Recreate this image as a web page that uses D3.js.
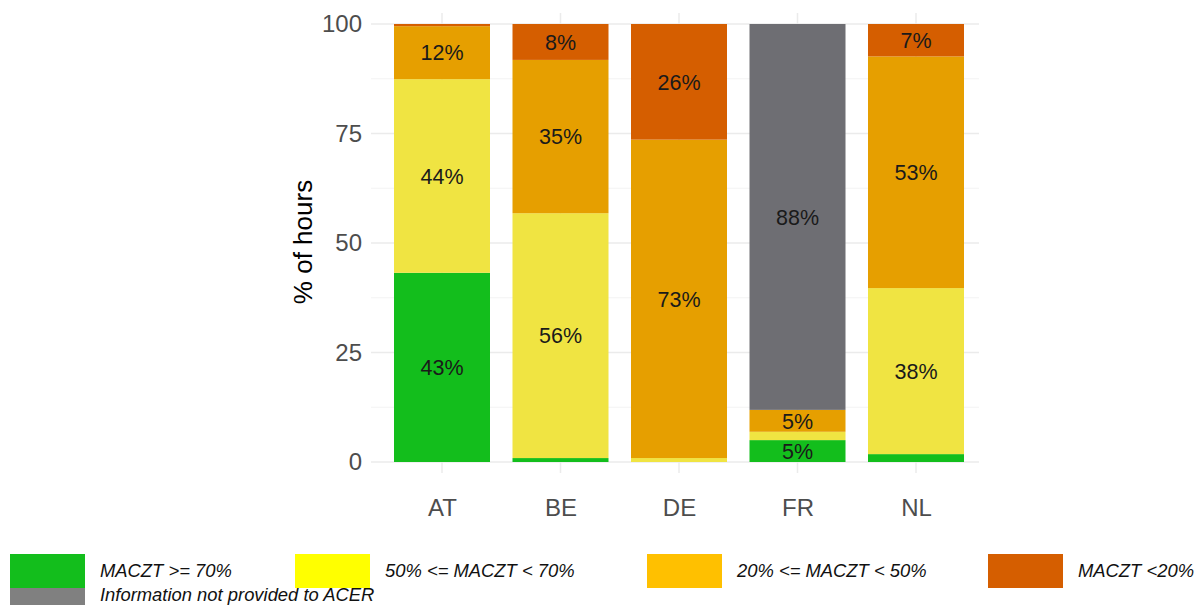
<!DOCTYPE html>
<html>
<head>
<meta charset="utf-8">
<script src="https://cdn.jsdelivr.net/npm/d3@7"></script>
<style>
html,body{margin:0;padding:0;background:#fff;}
svg{display:block;font-family:"Liberation Sans",Arial,sans-serif;}
</style>
</head>
<body>
<svg id="chart" width="1195" height="605"></svg>
<script>
const countries = ["AT", "BE", "DE", "FR", "NL"];
const seriesKeys = ["green", "yellow", "orange", "red", "grey"];
const green  = [43.2, 0.9, 0.0, 5.0, 1.8];
const yellow = [44.2, 55.9, 0.9, 1.9, 37.9];
const orange = [12.1, 35.0, 72.7, 5.0, 52.9];
const red    = [0.5, 8.2, 26.4, 0.0, 7.4];
const grey   = [0.0, 0.0, 0.0, 88.1, 0.0];
const yTicks = [0, 25, 50, 75, 100];
const yMinor = [12.5, 37.5, 62.5, 87.5];
const legendLabels = ["MACZT >= 70%", "50% <= MACZT < 70%", "20% <= MACZT < 50%", "MACZT <20%", "Information not provided to ACER"];

const barColors = {green:"#13be1c", yellow:"#f0e442", orange:"#e69f00", red:"#d55e00", grey:"#6e6e73"};
const legendColors = ["#13be1c", "#ffff00", "#ffc000", "#d55e00", "#808080"];

const svg = d3.select("#chart");
const panel = {left:371, right:979, top:13, bottom:473};

const x = d3.scalePoint().domain(countries).range([442, 916]);
const barW = 96;
const y = d3.scaleLinear().domain([0, 100]).range([462, 24]);

// grid
const g = svg.append("g");
g.selectAll(".minor").data(yMinor).enter().append("line")
  .attr("x1", panel.left).attr("x2", panel.right)
  .attr("y1", d => y(d)).attr("y2", d => y(d))
  .attr("stroke", "#f3f3f3").attr("stroke-width", 1);
g.selectAll(".major").data(yTicks).enter().append("line")
  .attr("x1", panel.left).attr("x2", panel.right)
  .attr("y1", d => y(d)).attr("y2", d => y(d))
  .attr("stroke", "#ebebeb").attr("stroke-width", 1.5);
g.selectAll(".vmajor").data(countries).enter().append("line")
  .attr("x1", d => x(d)).attr("x2", d => x(d))
  .attr("y1", panel.top).attr("y2", panel.bottom)
  .attr("stroke", "#ebebeb").attr("stroke-width", 1.5);

// stacked data
const rows = countries.map((c, i) => ({country:c, green:green[i], yellow:yellow[i], orange:orange[i], red:red[i], grey:grey[i]}));
const stacked = d3.stack().keys(seriesKeys)(rows);

const layers = svg.append("g").selectAll("g").data(stacked).enter().append("g")
  .attr("fill", d => barColors[d.key]);
layers.selectAll("rect").data(d => d).enter().append("rect")
  .attr("x", d => x(d.data.country) - barW/2)
  .attr("width", barW)
  .attr("y", d => y(d[1]))
  .attr("height", d => Math.max(0, y(d[0]) - y(d[1])));

// labels
const labG = svg.append("g");
stacked.forEach(layer => {
  layer.forEach(d => {
    const v = d[1] - d[0];
    if (v >= 3) {
      labG.append("text")
        .attr("x", x(d.data.country))
        .attr("y", (y(d[0]) + y(d[1])) / 2)
        .attr("dy", "0.36em")
        .attr("text-anchor", "middle")
        .attr("font-size", "21.5px")
        .attr("fill", "#1a1a1a")
        .text(Math.round(v) + "%");
    }
  });
});

// y axis
const yAxis = d3.axisLeft(y).tickValues(yTicks).tickSize(0).tickPadding(0);
const ya = svg.append("g").attr("transform", "translate(362,0)").call(yAxis);
ya.select(".domain").remove();
ya.selectAll("text").attr("font-size", "24px").attr("fill", "#4d4d4d")
  .attr("font-family", "Liberation Sans, Arial, sans-serif");

// x axis
const xAxis = d3.axisBottom(x).tickSize(0).tickPadding(0);
const xa = svg.append("g").attr("transform", "translate(0,499)").call(xAxis);
xa.select(".domain").remove();
xa.selectAll("text").attr("font-size", "24px").attr("fill", "#4d4d4d")
  .attr("font-family", "Liberation Sans, Arial, sans-serif");

// y title
svg.append("text")
  .attr("transform", "translate(312,242) rotate(-90)")
  .attr("text-anchor", "middle")
  .attr("font-size", "26px")
  .attr("fill", "#000")
  .text("% of hours");

// legend
const legendPos = [
  {bx:10, by:554, bh:34, tx:100, ty:577},
  {bx:295, by:554, bh:34, tx:385, ty:577},
  {bx:647, by:554, bh:34, tx:737, ty:577},
  {bx:988, by:554, bh:34, tx:1078, ty:577},
  {bx:10, by:588, bh:20, tx:100, ty:601}
];
const lg = svg.append("g");
legendLabels.forEach((lab, i) => {
  const p = legendPos[i];
  lg.append("rect").attr("x", p.bx).attr("y", p.by).attr("width", 75).attr("height", p.bh)
    .attr("fill", legendColors[i]);
  lg.append("text").attr("x", p.tx).attr("y", p.ty)
    .attr("font-size", "18.4px").attr("font-style", "italic").attr("fill", "#111")
    .text(lab);
});
</script>
</body>
</html>
